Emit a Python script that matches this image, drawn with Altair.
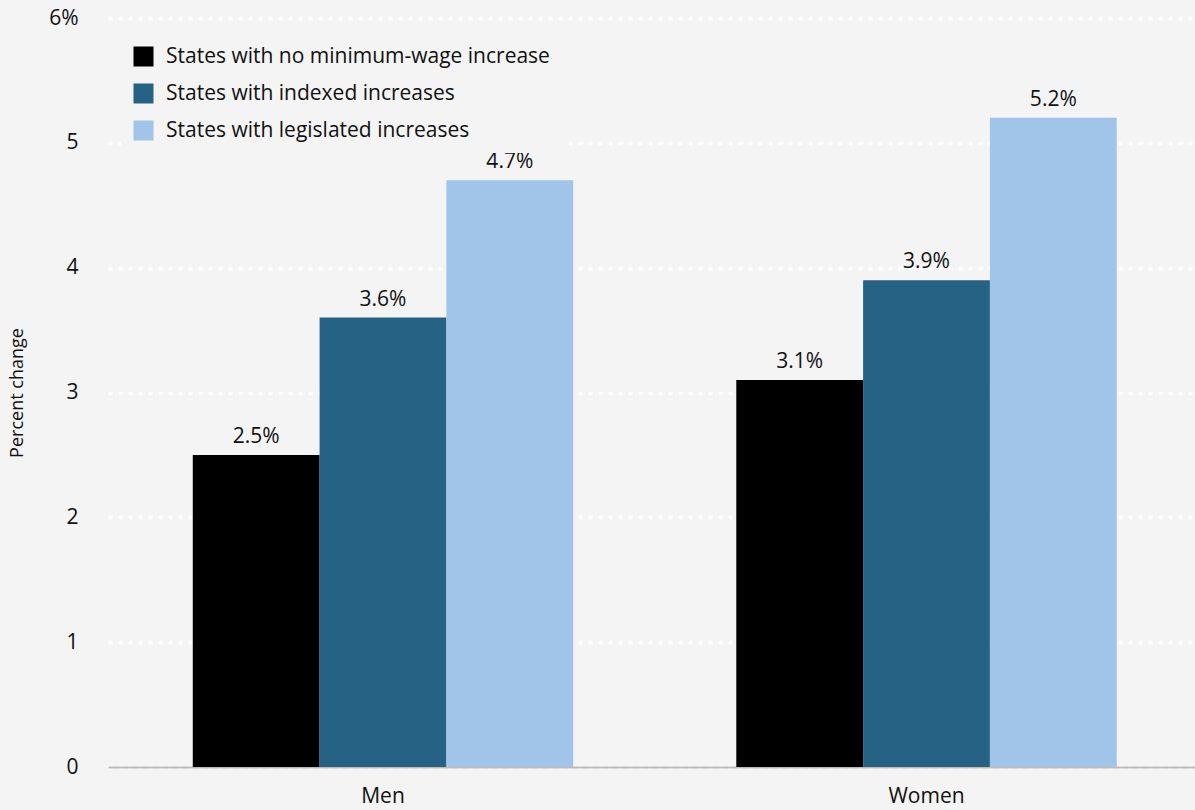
import altair as alt
import pandas as pd

groups = ["Men", "Women"]
series = ["States with no minimum-wage increase", "States with indexed increases", "States with legislated increases"]
men_values = [2.5, 3.6, 4.7]
women_values = [3.1, 3.9, 5.2]
colors = ["#000000", "#256284", "#a0c5e8"]

rows = []
for g, vals in zip(groups, [men_values, women_values]):
    for i, (s, v) in enumerate(zip(series, vals)):
        rows.append({"group": g, "series": s, "order": i, "value": v, "label": f"{v:.1f}%"})
df = pd.DataFrame(rows)

FONT = "Open Sans"
BG = "#f4f4f4"
FS = 21

base = alt.Chart(df).encode(
    x=alt.X("group:N", sort=groups,
            scale=alt.Scale(paddingInner=0.3, paddingOuter=0.15, align=0.52),
            axis=alt.Axis(title=None, labelAngle=0, labelFontSize=FS, labelColor="#111",
                          labelFont=FONT, ticks=False, domain=True, domainColor="#bbbbbb",
                          domainWidth=2, labelPadding=18, grid=False)),
    xOffset=alt.XOffset("series:N", sort=series),
)

bars = base.mark_bar().encode(
    y=alt.Y("value:Q", scale=alt.Scale(domain=[0, 6], nice=False),
            axis=alt.Axis(title="Percent change", values=[0, 1, 2, 3, 4, 5, 6],
                          labelExpr="datum.value == 6 ? '6%' : format(datum.value, 'd')",
                          labelFontSize=FS, labelFont=FONT, labelColor="#111",
                          titleFont=FONT, titleFontSize=18, titleFontWeight="normal",
                          titleColor="#111", titlePadding=22,
                          ticks=False, domain=False, labelPadding=30,
                          grid=True, gridColor="#ffffff", gridWidth=3.5, gridDash=[4, 6])),
    color=alt.Color("series:N", sort=series,
                    scale=alt.Scale(domain=series, range=colors),
                    legend=alt.Legend(title=None, orient="none", legendX=13, legendY=16,
                                      padding=12, fillColor=BG,
                                      symbolType="square", symbolSize=400,
                                      symbolStrokeWidth=0, symbolOpacity=1,
                                      labelFontSize=FS, labelFont=FONT, labelColor="#111",
                                      rowPadding=15, labelOffset=12,
                                      labelLimit=600)),
)

text = base.mark_text(baseline="alphabetic", dy=-12, fontSize=FS, font=FONT, color="#111").encode(
    y="value:Q",
    text="label:N",
)

chart = (bars + text).properties(
    width=1087, height=749,
    autosize=alt.AutoSizeParams(type="none"),
    padding={"left": 108, "top": 18, "right": 0, "bottom": 43},
    background=BG,
).configure_view(stroke=None, fill=BG)

chart.save("out.html", embed_options={"renderer": "svg", "actions": False})
